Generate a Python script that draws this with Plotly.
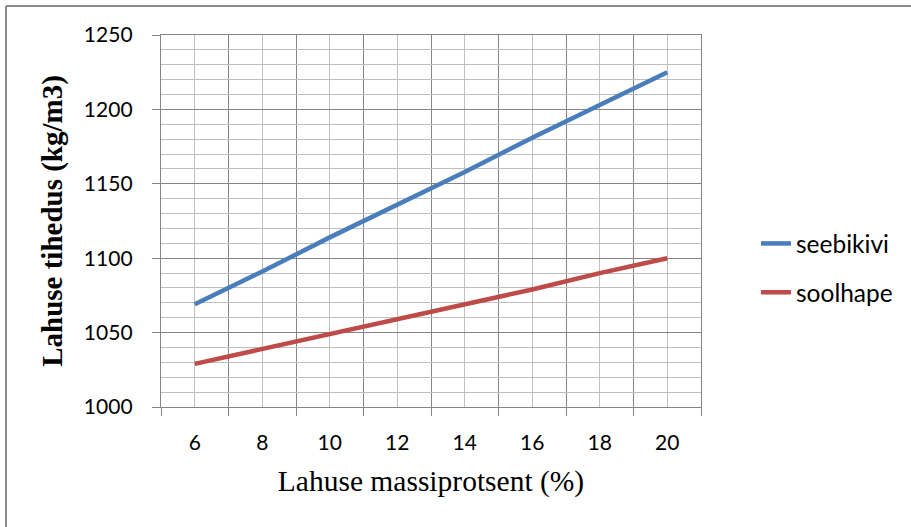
import plotly.graph_objects as go

# Data
massiprotsent = [6, 8, 10, 12, 14, 16, 18, 20]
seebikivi = [1069, 1091, 1114, 1136, 1158, 1181, 1203, 1225]
soolhape = [1029, 1039, 1049, 1059, 1069, 1079, 1090, 1100]
series_names = ["seebikivi", "soolhape"]
x_title = "Lahuse massiprotsent (%)"
y_title = "Lahuse tihedus (kg/m3)"

W, H = 911, 527
L, R, T, B = 161, 701, 35, 407
pw, ph = R - L, B - T

def px_x(p):
    return (p - L) / pw

def px_y(p):
    return (B - p) / ph

MAJOR = "#858585"
MINOR = "#BFBFBF"
TICKFONT = dict(family="Lato, Carlito, sans-serif", size=21, color="#000000")
SERIF = "Liberation Serif, Times New Roman, serif"

fig = go.Figure()
fig.add_trace(go.Scatter(x=massiprotsent, y=seebikivi, mode="lines", name=series_names[0],
                         legendgroup="a", line=dict(color="#4A7EBB", width=4.5)))
fig.add_trace(go.Scatter(x=massiprotsent, y=soolhape, mode="lines", name=series_names[1],
                         legendgroup="b", line=dict(color="#BE4B48", width=4.5)))

fig.update_layout(
    width=W, height=H,
    margin=dict(l=L, r=W - R, t=T, b=H - B, pad=0),
    paper_bgcolor="white", plot_bgcolor="white",
    showlegend=True,
    legend=dict(x=px_x(756), y=px_y(268), xanchor="left", yanchor="middle",
                font=dict(family="Lato, Carlito, sans-serif", size=24.5, color="#000000"),
                traceorder="grouped", tracegroupgap=14, bgcolor="rgba(0,0,0,0)"),
    xaxis=dict(
        range=[5, 21], tickmode="array", tickvals=massiprotsent,
        ticktext=[str(v) for v in massiprotsent], ticks="",
        showgrid=True, gridcolor=MINOR, gridwidth=1.4,
        tickfont=TICKFONT, ticklabelstandoff=17,
        showline=True, linecolor=MAJOR, linewidth=1.4, mirror=True,
        zeroline=False, fixedrange=True,
        minor=dict(tickmode="linear", tick0=5, dtick=2, ticks="outside", ticklen=8,
                   tickcolor=MAJOR, tickwidth=1.4, showgrid=True, gridcolor=MAJOR, gridwidth=1.4),
        title=dict(text=x_title, font=dict(family=SERIF, size=29.5, color="#000000"), standoff=16),
    ),
    yaxis=dict(
        range=[1000, 1250], tickmode="linear", tick0=1000, dtick=50,
        ticks="outside", ticklen=8, tickcolor=MAJOR, tickwidth=1.4,
        showgrid=True, gridcolor=MAJOR, gridwidth=1.4,
        tickfont=TICKFONT, ticklabelstandoff=15,
        showline=True, linecolor=MAJOR, linewidth=1.4, mirror=True,
        zeroline=False, fixedrange=True,
        minor=dict(tickmode="linear", tick0=1000, dtick=10, ticks="",
                   showgrid=True, gridcolor=MINOR, gridwidth=1.4),
        title=dict(text="<b>" + y_title + "</b>", font=dict(family=SERIF, size=29, color="#000000"), standoff=12),
    ),
)

# Outer chart border (left and top edges visible)
fig.add_shape(type="line", xref="paper", yref="paper",
              x0=px_x(6), x1=px_x(W + 5), y0=px_y(6), y1=px_y(6),
              line=dict(color="#8C8C8C", width=2))
fig.add_shape(type="line", xref="paper", yref="paper",
              x0=px_x(6), x1=px_x(6), y0=px_y(6), y1=px_y(H + 5),
              line=dict(color="#8C8C8C", width=2))

fig.write_html("out.html", config={"displayModeBar": False},
               post_script="document.body.style.margin='0';document.body.style.overflow='hidden';")
